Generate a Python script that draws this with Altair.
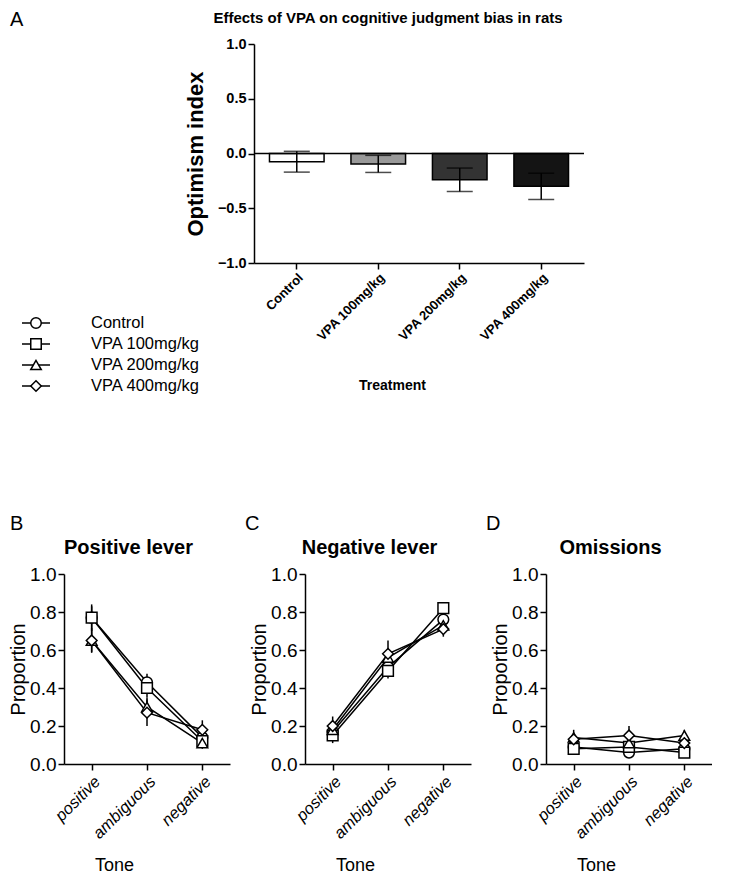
import altair as alt
import pandas as pd

FONT = "Liberation Sans"

# ---------------- Panel A data ----------------
treatments = ["Control", "VPA 100mg/kg", "VPA 200mg/kg", "VPA 400mg/kg"]
optimism_mean = [-0.075, -0.095, -0.24, -0.30]
optimism_sem = [0.095, 0.078, 0.107, 0.12]
bar_fill = ["#ffffff", "#999999", "#333333", "#141414"]
zero_line = [0.0]

# ---------------- legend ----------------
groups = ["Control", "VPA 100mg/kg", "VPA 200mg/kg", "VPA 400mg/kg"]
legend_labels = ["Control", "\u00a0VPA 100mg/kg", "VPA 200mg/kg", "VPA 400mg/kg"]
point_shapes = ["circle", "square", "triangle-up", "diamond"]

tones = ["positive", "ambiguous", "negative"]

# ---------------- Panel B: positive lever ----------------
posB = {
    "Control": [0.77, 0.43, 0.14],
    "VPA 100mg/kg": [0.77, 0.40, 0.12],
    "VPA 200mg/kg": [0.65, 0.30, 0.11],
    "VPA 400mg/kg": [0.65, 0.27, 0.18],
}
semB = {
    "Control": [0.06, 0.045, 0.04],
    "VPA 100mg/kg": [0.07, 0.05, 0.03],
    "VPA 200mg/kg": [0.06, 0.05, 0.03],
    "VPA 400mg/kg": [0.065, 0.07, 0.05],
}
# ---------------- Panel C: negative lever ----------------
posC = {
    "Control": [0.17, 0.51, 0.76],
    "VPA 100mg/kg": [0.15, 0.49, 0.82],
    "VPA 200mg/kg": [0.18, 0.56, 0.73],
    "VPA 400mg/kg": [0.20, 0.58, 0.71],
}
semC = {
    "Control": [0.04, 0.05, 0.04],
    "VPA 100mg/kg": [0.04, 0.04, 0.03],
    "VPA 200mg/kg": [0.04, 0.05, 0.04],
    "VPA 400mg/kg": [0.05, 0.07, 0.04],
}
# ---------------- Panel D: omissions ----------------
posD = {
    "Control": [0.09, 0.06, 0.08],
    "VPA 100mg/kg": [0.08, 0.09, 0.06],
    "VPA 200mg/kg": [0.14, 0.11, 0.15],
    "VPA 400mg/kg": [0.13, 0.15, 0.11],
}
semD = {
    "Control": [0.03, 0.02, 0.02],
    "VPA 100mg/kg": [0.02, 0.03, 0.02],
    "VPA 200mg/kg": [0.04, 0.03, 0.03],
    "VPA 400mg/kg": [0.03, 0.05, 0.03],
}


def long_frame(means, sems):
    rows = []
    for g in groups:
        for t, m, s in zip(tones, means[g], sems[g]):
            rows.append({"group": g, "tone": t, "mean": m, "lo": m - s, "hi": m + s})
    return pd.DataFrame(rows)


def line_panel(df, name, letter, letter_dx):
    xs = alt.Scale(type="point", domain=tones, padding=0.5)
    ys = alt.Scale(domain=[0, 1])
    base = alt.Chart(df)
    lines = base.mark_line(color="black", strokeWidth=1.5).encode(
        x=alt.X("tone:N", scale=xs, sort=tones,
                axis=alt.Axis(title="Tone", labelAngle=-45, labelFontStyle="italic",
                              labelFontSize=16.5, titleFontSize=18, titleFontWeight="normal",
                              tickSize=6, labelPadding=3, titlePadding=15, titleX=50)),
        y=alt.Y("mean:Q", scale=ys,
                axis=alt.Axis(title="Proportion", values=[0, 0.2, 0.4, 0.6, 0.8, 1.0],
                              format=".1f", labelFontSize=19, titleFontSize=20,
                              titleFontWeight="normal", tickSize=6, titlePadding=1)),
        detail="group:N",
    )
    errs = base.mark_rule(color="black", strokeWidth=1.5).encode(
        x=alt.X("tone:N", scale=xs, sort=tones, axis=None),
        y=alt.Y("lo:Q", scale=ys, axis=None),
        y2="hi:Q",
    )
    pts = base.mark_point(filled=True, fill="white", stroke="black", strokeWidth=1.5,
                          size=115, opacity=1).encode(
        x=alt.X("tone:N", scale=xs, sort=tones,
                axis=alt.Axis(orient="top", title=name, labels=False, ticks=False,
                              domain=False, titleFontSize=20, titleFontWeight="bold",
                              titleX=64, titleY=-27, titleAlign="center",
                              titleBaseline="middle")),
        y=alt.Y("mean:Q", scale=ys, axis=None),
        shape=alt.Shape("group:N", scale=alt.Scale(domain=groups, range=point_shapes),
                        legend=None),
    )
    return alt.layer(lines, errs, pts).resolve_axis(
        x="independent", y="independent").properties(
        width=166, height=190,
        title=alt.Title(letter, anchor="start", frame="group", dx=letter_dx, fontSize=20,
                        fontWeight="normal", offset=3),
    )


# ---------------- Panel A chart ----------------
dfA = pd.DataFrame({"treatment": treatments, "mean": optimism_mean, "sem": optimism_sem})
dfA["lo"] = dfA["mean"] - dfA["sem"]
dfA["hi"] = dfA["mean"] + dfA["sem"]
xA = alt.Scale(domain=treatments, paddingInner=0.33, paddingOuter=0.19)
yA = alt.Scale(domain=[-1, 1])

bars = alt.Chart(dfA).mark_bar(stroke="black", strokeWidth=1.5).encode(
    x=alt.X("treatment:N", scale=xA, sort=treatments,
            axis=alt.Axis(title="Treatment", labelAngle=-45, labelFontWeight="bold",
                          labelFontSize=13, titleFontWeight="bold", titleFontSize=14,
                          tickSize=6, labelPadding=2, titlePadding=35, titleX=138)),
    y=alt.Y("mean:Q", scale=yA,
            axis=alt.Axis(title="Optimism index", values=[-1, -0.5, 0, 0.5, 1], format=".1f",
                          labelFontWeight="bold", labelFontSize=14.5, titleFontSize=22,
                          titleFontWeight="bold", tickSize=6, titlePadding=10)),
    fill=alt.Fill("treatment:N", scale=alt.Scale(domain=treatments, range=bar_fill),
                  legend=None),
)
zero = alt.Chart(pd.DataFrame({"zero": zero_line})).mark_rule(
    color="black", strokeWidth=1.5).encode(y=alt.Y("zero:Q", scale=yA, axis=None))
errA = alt.Chart(dfA).mark_rule(color="black", strokeWidth=1.5).encode(
    x=alt.X("treatment:N", scale=xA, sort=treatments, axis=None),
    y=alt.Y("lo:Q", scale=yA, axis=None),
    y2="hi:Q",
)
capLo = alt.Chart(dfA).mark_tick(color="black", thickness=1.5, size=26).encode(
    x=alt.X("treatment:N", scale=xA, sort=treatments, axis=None),
    y=alt.Y("lo:Q", scale=yA, axis=None),
)
capHi = alt.Chart(dfA).mark_tick(color="black", thickness=1.5, size=26).encode(
    x=alt.X("treatment:N", scale=xA, sort=treatments, axis=None),
    y=alt.Y("hi:Q", scale=yA, axis=None),
)

chartA = alt.layer(bars, zero, errA, capLo, capHi).resolve_axis(
    x="independent", y="independent").properties(
    width=330, height=219,
    title=alt.Title("Effects of VPA on cognitive judgment bias in rats", fontSize=15,
                    fontWeight="bold", anchor="middle", frame="group", dx=-31, offset=10),
)

# ---------------- legend (drawn from the legend arrays) ----------------
leg_df = pd.DataFrame({"label": legend_labels, "group": groups})
ly = alt.Scale(type="point", domain=legend_labels, range=[279, 342], padding=0)
leg_base = alt.Chart(leg_df)
leg_rule = leg_base.mark_rule(color="black", strokeWidth=1.5).encode(
    y=alt.Y("label:N", scale=ly, axis=None, sort=legend_labels),
    x=alt.value(-42), x2=alt.value(-14),
)
leg_pt = leg_base.mark_point(filled=True, fill="white", stroke="black", strokeWidth=1.5,
                             size=110, opacity=1).encode(
    y=alt.Y("label:N", scale=ly, axis=None, sort=legend_labels),
    x=alt.value(-28),
    shape=alt.Shape("group:N", scale=alt.Scale(domain=groups, range=point_shapes),
                    legend=None),
)
leg_txt = leg_base.mark_text(align="left", baseline="middle", fontSize=16.5, font=FONT,
                             color="black").encode(
    y=alt.Y("label:N", scale=ly, axis=None, sort=legend_labels),
    x=alt.value(27),
    text="label:N",
)
legend_chart = alt.layer(leg_rule, leg_pt, leg_txt).properties(
    width=180, height=219,
    title=alt.Title("A", anchor="start", frame="group", dx=-54, fontSize=20,
                    fontWeight="normal", offset=14),
)

panelB = line_panel(long_frame(posB, semB), "Positive lever", "B", -54)
panelC = line_panel(long_frame(posC, semC), "Negative lever", "C", -60)
panelD = line_panel(long_frame(posD, semD), "Omissions", "D", -60)

top = alt.hconcat(legend_chart, chartA, spacing=10, bounds="flush")
bottom = alt.hconcat(panelB, panelC, panelD, spacing=15)

chart = alt.vconcat(top, bottom, spacing=119).properties(
    padding={"left": 0, "top": 2, "right": 0, "bottom": 0}
).configure(font=FONT).configure_view(stroke=None).configure_axis(
    domainColor="black", tickColor="black", labelColor="black", titleColor="black",
    grid=False, domainWidth=1.5, tickWidth=1.5, labelFont=FONT, titleFont=FONT,
).configure_title(font=FONT, color="black")

chart.save("out.html", embed_options={"renderer": "svg", "actions": False})
